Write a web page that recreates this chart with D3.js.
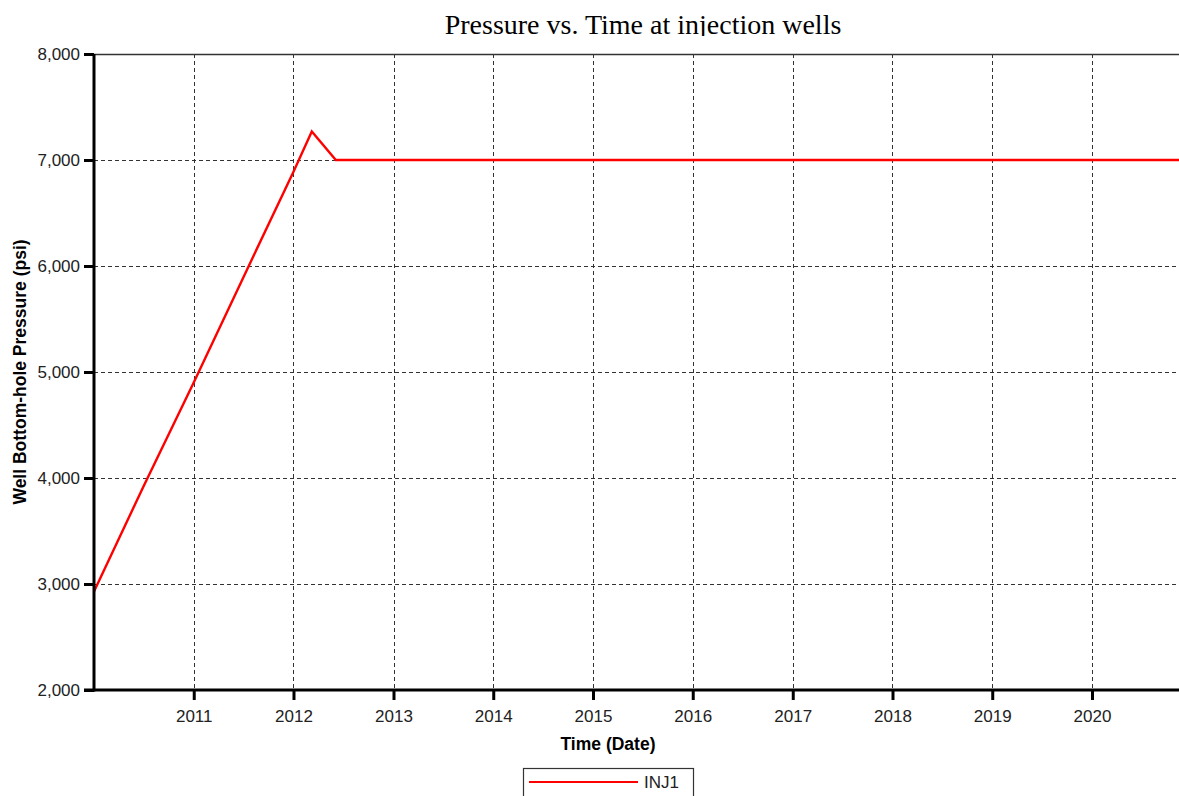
<!DOCTYPE html>
<html>
<head>
<meta charset="utf-8">
<script src="https://cdn.jsdelivr.net/npm/d3@7"></script>
<style>
  html, body { margin: 0; padding: 0; background: #fff; }
  svg { display: block; }
  .tick text { font-family: "Liberation Sans", Arial, sans-serif; font-size: 17px; fill: #222; }
</style>
</head>
<body>
<svg id="chart" width="1179" height="796"></svg>
<script>
// Bottom-hole pressure history of injection well INJ1
const dates = [
  "2010-01-01", "2010-07-01", "2011-01-01", "2011-07-01",
  "2012-01-01", "2012-03-08", "2012-06-04", "2021-01-01"
];
const pressures = [2930, 3920, 4900, 5890, 6890, 7270, 7000, 7000];

const yTicks = [2000, 3000, 4000, 5000, 6000, 7000, 8000];
const xTickYears = [2011, 2012, 2013, 2014, 2015, 2016, 2017, 2018, 2019, 2020];

const titleText = "Pressure vs. Time at injection wells";
const xTitle = "Time (Date)";
const yTitle = "Well Bottom-hole Pressure (psi)";
const seriesName = "INJ1";

const parse = d3.timeParse("%Y-%m-%d");
const series = dates.map((d, i) => ({ date: parse(d), value: pressures[i] }));

const W = 1179, H = 796;
const m = { left: 94, top: 54, bottom: 690, right: 1192 };

const svg = d3.select("#chart");

const x = d3.scaleTime()
  .domain([new Date(2010, 0, 1), new Date(2021, 0, 1)])
  .range([m.left, m.right]);
const y = d3.scaleLinear()
  .domain([2000, 8000])
  .range([m.bottom, m.top]);

// title, trimmed at the plot frame
svg.append("clipPath").attr("id", "titleClip")
  .append("rect").attr("x", 0).attr("y", 0).attr("width", W).attr("height", 36);
svg.append("text")
  .attr("clip-path", "url(#titleClip)")
  .attr("x", 643).attr("y", 34)
  .attr("text-anchor", "middle")
  .style("font-family", "'Liberation Serif', 'Times New Roman', serif")
  .style("font-size", "28px")
  .attr("fill", "#000")
  .text(titleText);

// dashed grid
const grid = svg.append("g").attr("stroke", "#333").attr("stroke-width", 1)
  .attr("stroke-dasharray", "4,3").attr("shape-rendering", "crispEdges");
grid.selectAll("line.h").data(yTicks.filter(v => v > 2000 && v < 8000)).join("line")
  .attr("x1", m.left).attr("x2", W)
  .attr("y1", d => Math.round(y(d)) + 0.5).attr("y2", d => Math.round(y(d)) + 0.5);
grid.selectAll("line.v").data(xTickYears).join("line")
  .attr("x1", d => Math.round(x(new Date(d, 0, 1))) + 0.5)
  .attr("x2", d => Math.round(x(new Date(d, 0, 1))) + 0.5)
  .attr("y1", m.top).attr("y2", m.bottom);

// top frame line
svg.append("line")
  .attr("x1", m.left).attr("x2", W).attr("y1", m.top + 0.5).attr("y2", m.top + 0.5)
  .attr("stroke", "#333").attr("stroke-width", 1.6);

// pressure curve
const line = d3.line().x(d => x(d.date)).y(d => y(d.value));
svg.append("path")
  .datum(series)
  .attr("d", line)
  .attr("fill", "none")
  .attr("stroke", "#ff0000")
  .attr("stroke-width", 2.4)
  .attr("stroke-linejoin", "miter");

// axes
const yAxis = d3.axisLeft(y).tickValues(yTicks).tickFormat(d3.format(",")).tickSize(10).tickPadding(4);
const gy = svg.append("g").attr("transform", `translate(${m.left},0)`).call(yAxis);
gy.select(".domain").attr("stroke", "#000").attr("stroke-width", 3).attr("d", `M0,${m.top}V${m.bottom + 1.5}`);
gy.selectAll(".tick line").attr("stroke", "#000").attr("stroke-width", 3);

const xAxis = d3.axisBottom(x)
  .tickValues(xTickYears.map(yr => new Date(yr, 0, 1)))
  .tickFormat(d3.timeFormat("%Y")).tickSize(10).tickPadding(10);
const gx = svg.append("g").attr("transform", `translate(0,${m.bottom})`).call(xAxis);
gx.select(".domain").attr("stroke", "#000").attr("stroke-width", 3).attr("d", `M${m.left - 10},0H${W}`);
gx.selectAll(".tick line").attr("stroke", "#000").attr("stroke-width", 3);

// axis titles
svg.append("text")
  .attr("x", 608).attr("y", 750)
  .attr("text-anchor", "middle")
  .style("font-family", "'Liberation Sans', Arial, sans-serif")
  .style("font-size", "17.5px").style("font-weight", "bold")
  .text(xTitle);
svg.append("text")
  .attr("transform", `translate(26,${(m.top + m.bottom) / 2}) rotate(-90)`)
  .attr("text-anchor", "middle")
  .style("font-family", "'Liberation Sans', Arial, sans-serif")
  .style("font-size", "17.5px").style("font-weight", "bold")
  .text(yTitle);

// legend
const lg = svg.append("g");
lg.append("rect")
  .attr("x", 523.5).attr("y", 768.5).attr("width", 170).attr("height", 40)
  .attr("fill", "#fff").attr("stroke", "#333").attr("stroke-width", 1.2);
lg.append("line")
  .attr("x1", 529).attr("x2", 638).attr("y1", 782).attr("y2", 782)
  .attr("stroke", "#ff0000").attr("stroke-width", 2.2);
lg.append("text")
  .attr("x", 644).attr("y", 788)
  .style("font-family", "'Liberation Sans', Arial, sans-serif")
  .style("font-size", "17px").attr("fill", "#222")
  .text(seriesName);
</script>
</body>
</html>
